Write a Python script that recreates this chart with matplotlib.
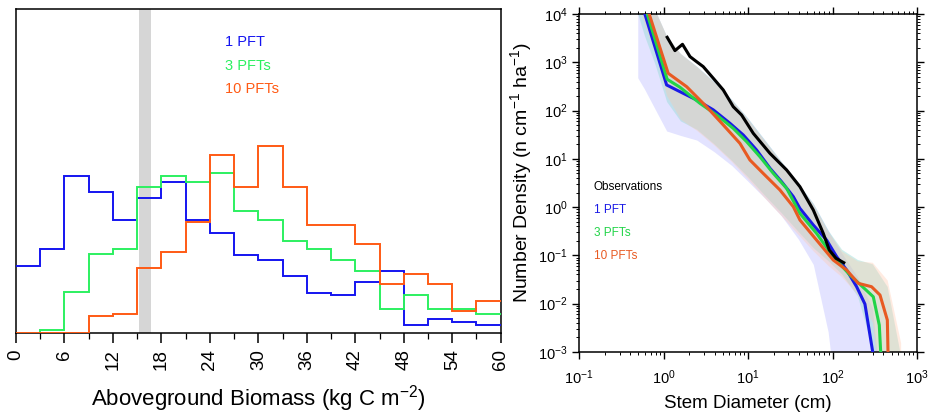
import numpy as np
import matplotlib
matplotlib.use("Agg")
import matplotlib.pyplot as plt
from matplotlib.ticker import FixedLocator, LogLocator, NullFormatter

plt.rcParams['font.family'] = ['Liberation Sans', 'DejaVu Sans']
plt.rcParams['mathtext.fontset'] = 'custom'
plt.rcParams['mathtext.rm'] = 'Liberation Sans'
plt.rcParams['mathtext.it'] = 'Liberation Sans'

# ---- left panel: biomass histograms (bin width 3 kg C m-2)
bin_edges = np.arange(0, 63, 3)
hist_1pft = [67, 84, 156.7, 140.4, 113, 134.7, 151, 113, 99.7, 78,
             72.7, 56.7, 40, 37.7, 51, 62, 7.4, 13.4, 11, 7.7]
hist_3pft = [0, 2.4, 40.4, 78.4, 84, 145.7, 156.7, 151, 159.4, 121.4,
             113, 92, 83.7, 73, 62, 23.7, 37.7, 24, 23.7, 18.7]
hist_10pft = [0, 0, 0, 16.7, 19, 65, 81, 111, 178, 145.7,
              186.7, 145.7, 107.7, 107.7, 89, 48.4, 59, 48.7, 21.4, 32]
obs_range = (15.25, 16.75)

# ---- right panel: size distributions
obs_d = [1.10, 1.36, 1.67, 2.05, 2.45, 2.94, 3.87, 5.08, 6.67, 8.37,
         11.5, 18.1, 28.6, 41.1, 59.2, 77.7, 91.5, 110, 136]
obs_n = [3334, 1762, 2384, 1324, 1042, 821, 470, 269, 121, 81.5,
         34, 13.1, 5.89, 2.65, 0.87, 0.285, 0.129, 0.0865, 0.0703]

pft1_d = [0.60, 1.083, 1.42, 2.45, 3.87, 6.10, 8.77, 12.6, 18.2, 24.9,
          34.3, 41.1, 59.2, 85.1, 112, 147, 193, 242, 299]
pft1_n = [1e4, 342, 269, 167, 104, 54.7, 31.3, 15.3, 6.37, 3.37,
          1.65, 0.94, 0.425, 0.207, 0.0935, 0.0495, 0.0223, 0.00975, 0.001]

pft3_d = [0.64, 1.10, 1.56, 2.69, 4.24, 6.67, 9.6, 13.8, 19.9, 28.6,
          41.1, 64.7, 102, 161, 231, 304, 358, 372]
pft3_n = [1e4, 448, 306, 142, 81.5, 43, 22.8, 11.1, 5.0, 2.45,
          0.74, 0.285, 0.0935, 0.039, 0.0216, 0.0138, 0.00357, 0.001]

pft10_d = [0.675, 1.13, 1.87, 3.22, 5.08, 8.0, 10.5, 15.1, 23.8, 34.3,
           41.1, 64.7, 102, 147, 202, 290, 365, 446, 454]
pft10_n = [1e4, 597, 315, 121, 50.6, 21.0, 9.5, 5.0, 2.27, 1.02,
           0.54, 0.207, 0.0798, 0.0495, 0.0262, 0.0223, 0.015, 0.00454, 0.001]

# spread across ensemble members
band_d = [0.5, 0.6, 0.8, 1.1, 1.6, 2.5, 4, 6.5, 10, 16, 25, 40, 60, 90,
          130, 200, 300, 450, 650]
pft1_lo = [470, 275, 106, 37, 30, 24, 13.8, 7.1, 3.4, 1.5, 0.65, 0.21, 0.063,
           0.0025, 1e-5, 1e-5, 1e-5, 1e-5, 1e-5]
pft1_hi = [2e4, 2e4, 1.2e4, 3400, 1500, 810, 392, 166, 69, 24, 8.7, 3.0, 1.16,
           0.32, 0.11, 0.035, 0.008, 1e-5, 1e-5]
pft3_lo = [1e4, 3500, 900, 150, 60, 40, 20, 9, 4.2, 1.7, 0.75, 0.3, 0.14,
           0.075, 0.04, 0.014, 0.0012, 1e-5, 1e-5]
pft3_hi = [2e4, 2e4, 1.2e4, 3400, 1500, 810, 392, 166, 69, 24, 8.7, 3.0, 1.16,
           0.32, 0.13, 0.08, 0.065, 0.022, 0.0008]
pft10_lo = [2e4, 6000, 1500, 200, 65, 38, 19, 8.5, 3.8, 1.5, 0.65, 0.26, 0.12,
            0.06, 0.035, 0.015, 0.004, 1e-5, 1e-5]
pft10_hi = [2e4, 2e4, 1.2e4, 3400, 1500, 800, 380, 160, 66, 23, 8.3, 2.9, 1.1,
            0.3, 0.12, 0.075, 0.07, 0.03, 0.0015]

c_blue, c_green, c_orange = '#1414f0', '#2cf060', '#ff5a14'
r_blue, r_green, r_orange = '#1a1ae6', '#22d448', '#e85a22'

fig = plt.figure(figsize=(9.31, 4.19), dpi=100)

# ================= left panel
ax = fig.add_axes([0.0172, 0.206, 0.5206, 0.7725])
ax.axvspan(*obs_range, color='#d6d6d6', lw=0, zorder=1)
ax.stairs(hist_1pft, bin_edges, baseline=None, color=c_blue, lw=1.4, zorder=3)
ax.stairs(hist_3pft, bin_edges, baseline=None, color=c_green, lw=1.4, zorder=3)
ax.stairs(hist_10pft, bin_edges, baseline=None, color=c_orange, lw=1.4, zorder=3)
ax.set_xlim(0, 60)
ax.set_ylim(0, 323.7)
ax.set_yticks([])
ax.xaxis.set_major_locator(FixedLocator(np.arange(0, 61, 6)))
ax.xaxis.set_minor_locator(FixedLocator(np.arange(3, 60, 6)))
ax.tick_params(axis='x', which='major', direction='out', length=7, width=1.1,
               labelsize=13.5, labelrotation=90, pad=5)
ax.tick_params(axis='x', which='minor', direction='out', length=4, width=0.9)
for s in ax.spines.values():
    s.set_linewidth(1.1)
ax.set_xlabel('Aboveground Biomass (kg C m$^{-2}$)', fontsize=16, labelpad=9)
for i, (lab, col) in enumerate([('1 PFT', c_blue), ('3 PFTs', c_green),
                                ('10 PFTs', c_orange)]):
    ax.text(0.431, 0.898 - i * 0.073, lab, color=col, fontsize=10.5,
            transform=ax.transAxes, va='center', ha='left')

# ================= right panel
bx = fig.add_axes([0.6222, 0.1606, 0.3627, 0.8053])
bx.set_xscale('log')
bx.set_yscale('log')
bx.fill_between(band_d, pft1_lo, pft1_hi, color='#c8c8ff', alpha=0.5, lw=0, zorder=1)
bx.fill_between(band_d, pft3_lo, pft3_hi, color='#96dcd7', alpha=0.45, lw=0, zorder=1)
bx.fill_between(band_d, pft10_lo, pft10_hi, color='#ffc8aa', alpha=0.35, lw=0, zorder=1)
bx.plot(pft1_d, pft1_n, color=r_blue, lw=2.2, zorder=3)
bx.plot(pft3_d, pft3_n, color=r_green, lw=2.2, zorder=3)
bx.plot(pft10_d, pft10_n, color=r_orange, lw=2.2, zorder=3)
bx.plot(obs_d, obs_n, color='black', lw=2.2, zorder=4)
bx.set_xlim(0.1, 1000)
bx.set_ylim(1e-3, 1e4)
bx.xaxis.set_major_locator(LogLocator(base=10, numticks=10))
bx.yaxis.set_major_locator(LogLocator(base=10, numticks=10))
bx.xaxis.set_minor_locator(LogLocator(base=10, subs=np.arange(2, 10), numticks=20))
bx.yaxis.set_minor_locator(LogLocator(base=10, subs=np.arange(2, 10), numticks=20))
bx.xaxis.set_minor_formatter(NullFormatter())
bx.yaxis.set_minor_formatter(NullFormatter())
bx.tick_params(which='major', direction='out', length=5, width=1.0,
               top=True, right=True, labelsize=10.5)
bx.tick_params(axis='x', which='major', pad=7)
bx.tick_params(which='minor', direction='out', length=2.5, width=0.7,
               top=True, right=True)
for s in bx.spines.values():
    s.set_linewidth(1.1)
bx.set_xlabel('Stem Diameter (cm)', fontsize=13.5, labelpad=6)
bx.set_ylabel('Number Density (n cm$^{-1}$ ha$^{-1}$)', fontsize=14)
bx.yaxis.set_label_coords(-0.135, 0.53)
for i, (lab, col) in enumerate([('Observations', 'black'), ('1 PFT', r_blue),
                                ('3 PFTs', r_green), ('10 PFTs', r_orange)]):
    bx.text(0.0435, 0.488 - i * 0.068, lab, color=col, fontsize=8.5,
            transform=bx.transAxes, va='center', ha='left')

fig.savefig('out.png', dpi=100)
